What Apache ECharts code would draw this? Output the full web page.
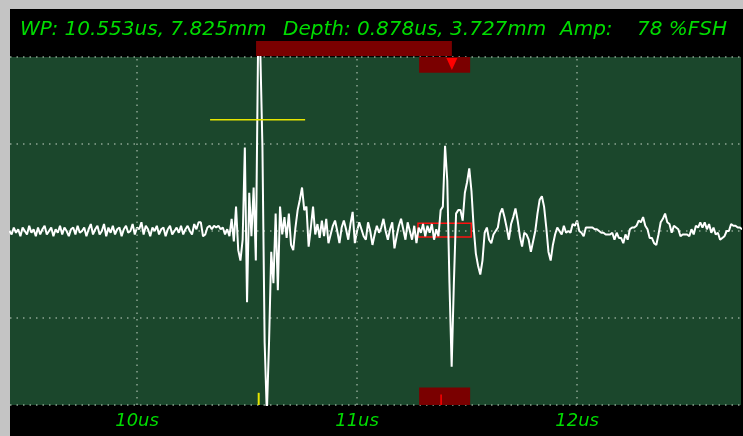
<!DOCTYPE html>
<html>
<head>
<meta charset="utf-8">
<title>A-scan</title>
<script src="https://cdn.jsdelivr.net/npm/echarts@6/dist/echarts.min.js"></script>
<style>
  html, body { margin: 0; padding: 0; background: #ffffff; }
  #main { width: 743px; height: 436px; }
</style>
</head>
<body>
<div id="main"></div>
<script>
// time base of the trace (us)
var t0 = 9.42;
var dt = 0.01;
// amplitude (%FSH), one value per sample
var amp = [
  0, -2, 2, -1, 1, -3, 2, 0, -2, 3,
  -1, 1, -3, 2, -2, 1, 3, -2, 0, 2,
  -3, 1, -1, 3, -2, 2, 0, -3, 1, 2,
  -2, 3, -1, 0, 2, -3, 1, 4, -2, 1,
  3, -2, 0, 4, -3, 2, -1, 3, -2, 1,
  2, -3, 1, 3, -1, 0, 4, -2, 2, 1,
  5, -2, 3, 1, -3, 2, 0, 3, -2, 1,
  2, -3, 1, 3, -2, 0, 2, -1, 3, -2,
  1, 3, 0, -2, 4, 1, 5,
  5, -3, -2, 2, 3, 1, 3, 2, 3, 1, 2, -2, 1, -3,
  7, -6, 14, -11, -17, -5, 48, -41, 22, -3, 25, -17,
  105, 105, 48, -64, -105, -64, -12,
  -30, 10, -34, 14, -2, 8, -4, 10, -8, -11, 2, 12, 18, 25, 12, 14, -9, 2, 14, -2, 4, -4, 6, -3,
  7, -7, -2, 3, 6, 0, -7, 2, 6, 1,
  -5, 4, 11, -7, 0, 5, 1, -3, -5, 5,
  0, -8, -2, 3, -1, 2, 7, 0, -5, 1,
  5, -10, -3, 3, 7, 1, -5, 5, 0, -5,
  3, -7, 2, -1, 4, -3, 3, -1, 4, -5,
  1, -3, 12, 14, 49, 29, -30, -78, -30, 10,
  12, 12, 6, 22, 28, 36, 23, 2, -13, -20,
  -25, -17, -1, 2, -5, -7, -2, 0, 2, 10,
  13, 8, 2, -5, 4, 8, 13, 6, -3, -9,
  -1, -2, -5, -12, -6, 0, 10, 18, 20, 14,
  2, -12, -17, -8, -2, 2, 0,
  -2, 3, -1, 0, -1, 4, 3, 6, 0, -1,
  -3, 2, 2, 2, 2, 1, 1, 0, -1, -1,
  -2, -2, -2, -1, -5, -1, -4, -4, -7, -2,
  -5, 1, 2, 2, 3, 6, 5, 8, 3, 1,
  -4, -4, -7, -8, -2, 5, 7, 10, 5, 4,
  -1, 3, 2, 1, -3, -2, -2, -2, -3, 1,
  -2, 3, 2, 5, 2, 5, 1, 4, -1, 2,
  -2, -1, -5, -4, -3, 0, 0, 4, 3, 3,
  2, 2, 1
];

var xTicks = [10, 11, 12];
var yTicks = [-100, -50, 0, 50, 100];

// gates and cursors
var yellowGate = [10.332, 10.764];
var yellowLevel = 64;
var wpUs = 10.553;
var gateBarUs = [10.541, 11.431];
var gateBoxUs = [11.282, 11.514];
var depthUs = 11.431;
var redTickUs = 11.382;

var green = '#00dc00';
var gridDot = { color: '#8ea593', width: 1.5, type: [1.5, 5] };

var trace = [];
for (var i = 0; i < amp.length; i++) {
  trace.push([+(t0 + i * dt).toFixed(3), amp[i]]);
}

var myChart = echarts.init(document.getElementById('main'));

var option = {
  animation: false,
  backgroundColor: '#000000',
  grid: {
    left: 10, right: 2, top: 57, bottom: 31,
    show: true, backgroundColor: '#1b472c', borderWidth: 0
  },
  xAxis: {
    type: 'value',
    min: 9.4227,
    max: 12.745,
    axisLine: { show: false },
    axisTick: { show: false },
    splitLine: { show: false },
    axisLabel: {
      customValues: xTicks,
      formatter: function (v) { return v + 'us'; },
      color: green,
      fontStyle: 'italic',
      fontFamily: 'DejaVu Sans',
      fontSize: 18,
      margin: 7
    }
  },
  yAxis: {
    type: 'value',
    min: yTicks[0],
    max: yTicks[yTicks.length - 1],
    interval: 50,
    axisLine: { show: false },
    axisTick: { show: false },
    axisLabel: { show: false },
    splitLine: { show: true, lineStyle: gridDot }
  },
  series: [
    {
      // vertical grid lines + gate boxes
      name: 'grid',
      type: 'line',
      z: 1,
      data: [[10, 0]],
      symbol: 'none',
      lineStyle: { opacity: 0 },
      silent: true,
      markLine: {
        silent: true,
        symbol: 'none',
        label: { show: false },
        lineStyle: gridDot,
        data: xTicks.map(function (v) { return { xAxis: v }; })
      },
      markArea: {
        silent: true,
        itemStyle: { color: '#7a0000' },
        data: [
          [{ xAxis: gateBoxUs[0], yAxis: 100 }, { xAxis: gateBoxUs[1], yAxis: 91 }],
          [{ xAxis: gateBoxUs[0], yAxis: -90 }, { xAxis: gateBoxUs[1], yAxis: -100 }]
        ]
      }
    },
    {
      name: 'signal',
      type: 'line',
      z: 3,
      data: trace,
      symbol: 'none',
      clip: true,
      lineStyle: { color: '#ffffff', width: 2 }
    },
    {
      name: 'gate',
      type: 'line',
      z: 4,
      data: [[yellowGate[0], yellowLevel], [yellowGate[1], yellowLevel]],
      symbol: 'none',
      lineStyle: { color: '#e6e600', width: 1.5 }
    },
    {
      name: 'wp',
      type: 'line',
      z: 4,
      data: [[wpUs, -93], [wpUs, -100]],
      symbol: 'none',
      lineStyle: { color: '#e6e600', width: 2 }
    },
    {
      name: 'depth',
      type: 'line',
      z: 4,
      data: [[redTickUs, -94], [redTickUs, -100]],
      symbol: 'none',
      lineStyle: { color: '#ff0000', width: 1.5 },
      markPoint: {
        silent: true,
        symbol: 'triangle',
        symbolRotate: 180,
        symbolSize: [11, 12],
        itemStyle: { color: '#ff0000' },
        label: { show: false },
        data: [{ coord: [depthUs, 96] }]
      },
      markArea: {
        silent: true,
        itemStyle: { color: 'rgba(0,0,0,0)', borderColor: '#ff1010', borderWidth: 1.5 },
        data: [
          [{ xAxis: gateBoxUs[0] - 0.005, yAxis: 4.5 }, { xAxis: gateBoxUs[1] + 0.005, yAxis: -3.5 }]
        ]
      }
    }
  ]
};

myChart.setOption(option);

// header: readouts and gate bar above the plot
var barL = myChart.convertToPixel({ xAxisIndex: 0 }, gateBarUs[0]);
var barR = myChart.convertToPixel({ xAxisIndex: 0 }, gateBarUs[1]);
var headFont = { fill: green, fontStyle: 'italic', fontFamily: 'DejaVu Sans', fontSize: 20, textVerticalAlign: 'middle' };
function headText(x, s) {
  return { type: 'text', x: x, y: 30, style: Object.assign({ text: s }, headFont) };
}
myChart.setOption({
  graphic: [
    { type: 'rect', shape: { x: 0, y: 0, width: 743, height: 9 }, style: { fill: '#c4c4c4' } },
    { type: 'rect', shape: { x: 0, y: 0, width: 10, height: 436 }, style: { fill: '#c4c4c4' } },
    { type: 'rect', shape: { x: barL, y: 41, width: barR - barL, height: 15 }, style: { fill: '#7a0000' } },
    headText(20, 'WP: 10.553us, 7.825mm'),
    headText(283, 'Depth: 0.878us, 3.727mm'),
    headText(560, 'Amp:'),
    headText(637, '78 %FSH')
  ]
});
</script>
</body>
</html>
